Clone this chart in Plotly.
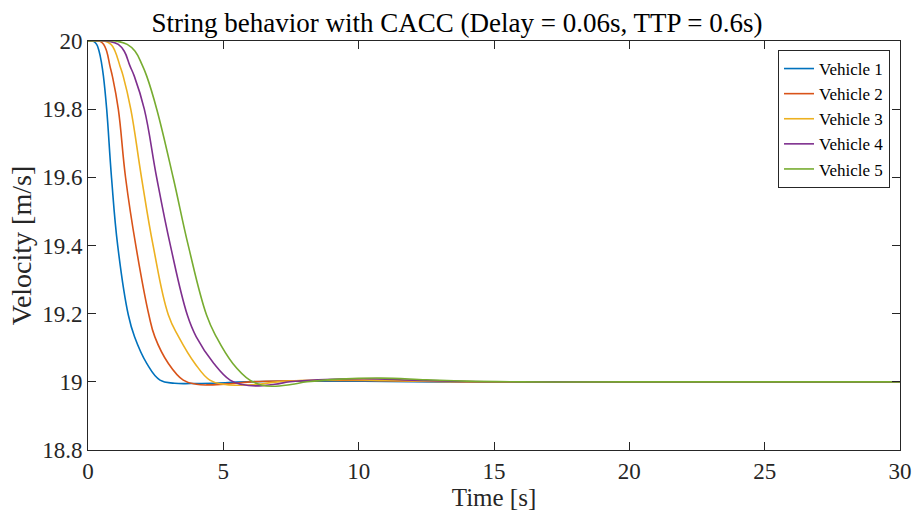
import plotly.graph_objects as go

names = ["Vehicle 1", "Vehicle 2", "Vehicle 3", "Vehicle 4", "Vehicle 5"]
colors = ["#0072BD", "#D95319", "#EDB120", "#7E2F8E", "#77AC30"]

t1 = [0, 0.2, 0.32, 0.41, 0.5, 0.57, 0.69, 0.87, 1.10, 1.49, 1.72, 2.17, 2.66, 3.2, 3.8, 4.6, 5.5, 6.5, 8, 9.5, 11, 13, 15, 20, 25, 30]
v1 = [20, 19.999, 19.99, 19.97, 19.935, 19.897, 19.80, 19.598, 19.398, 19.196, 19.132, 19.054, 19.005, 18.996, 18.995, 18.996, 18.999, 19.001, 19.002, 19.002, 19.001, 19.0, 19.0, 19.0, 19.0, 19.0]

t2 = [0, 0.44, 0.58, 0.69, 0.81, 0.90, 1.12, 1.39, 1.77, 2.25, 2.47, 2.97, 3.52, 4.0, 4.5, 5.2, 6.0, 7.5, 9, 11, 13, 15, 20, 25, 30]
v2 = [20, 19.999, 19.99, 19.97, 19.927, 19.897, 19.80, 19.598, 19.398, 19.196, 19.132, 19.054, 19.005, 18.993, 18.991, 18.994, 19.0, 19.003, 19.004, 19.003, 19.001, 19.0, 19.0, 19.0, 19.0]

t3 = [0, 0.63, 0.85, 1.0, 1.18, 1.30, 1.58, 1.98, 2.41, 2.97, 3.35, 3.95, 4.5, 5.0, 5.5, 6.3, 7.0, 8.5, 9.5, 11, 13, 15, 20, 25, 30]
v3 = [20, 19.999, 19.99, 19.97, 19.927, 19.897, 19.80, 19.598, 19.398, 19.196, 19.132, 19.054, 19.005, 18.993, 18.99, 18.993, 19.0, 19.005, 19.006, 19.004, 19.001, 19.0, 19.0, 19.0, 19.0]

t4 = [0, 0.8, 1.12, 1.34, 1.55, 1.71, 2.08, 2.54, 3.05, 3.67, 4.0, 4.65, 5.25, 5.7, 6.2, 6.9, 7.46, 8.5, 10.2, 12, 14, 16, 20, 25, 30]
v4 = [20, 19.999, 19.99, 19.97, 19.927, 19.897, 19.80, 19.598, 19.398, 19.196, 19.132, 19.054, 19.005, 18.992, 18.988, 18.993, 19.0, 19.006, 19.009, 19.005, 19.001, 19.0, 19.0, 19.0, 19.0]

t5 = [0, 1.1, 1.45, 1.74, 2.0, 2.17, 2.54, 3.15, 3.71, 4.38, 4.74, 5.35, 5.98, 6.4, 6.8, 7.5, 8.1, 9.3, 10.8, 12.5, 14, 16, 20, 25, 30]
v5 = [20, 19.999, 19.99, 19.97, 19.93, 19.897, 19.80, 19.598, 19.398, 19.196, 19.132, 19.054, 19.005, 18.991, 18.987, 18.992, 19.0, 19.008, 19.011, 19.006, 19.002, 19.0, 19.0, 19.0, 19.0]

series_t = [t1, t2, t3, t4, t5]
series_v = [v1, v2, v3, v4, v5]

x_ticks = [0, 5, 10, 15, 20, 25, 30]
y_ticks = [18.8, 19, 19.2, 19.4, 19.6, 19.8, 20]
y_tick_text = ["18.8", "19", "19.2", "19.4", "19.6", "19.8", "20"]

FONT = "Liberation Serif"

fig = go.Figure()
for name, col, tt, vv in zip(names, colors, series_t, series_v):
    fig.add_trace(go.Scatter(x=tt, y=vv, mode="lines", name=name,
                             line=dict(color=col, width=1.6, shape="spline", smoothing=1.2)))

axis_common = dict(showgrid=False, zeroline=False, showline=True, linecolor="#262626",
                   linewidth=1, mirror="ticks", ticks="inside", ticklen=8, tickwidth=1,
                   tickcolor="#262626", automargin=False,
                   tickfont=dict(family=FONT, size=23, color="#262626"))

fig.update_layout(
    width=914, height=518,
    margin=dict(l=88, r=14, t=41, b=68),
    paper_bgcolor="white", plot_bgcolor="white",
    title=dict(text="String behavior with CACC (Delay = 0.06s, TTP = 0.6s)",
               x=0.5, xref="container", xanchor="center", y=1, yref="container", yanchor="top",
               pad=dict(t=13),
               font=dict(family=FONT, size=27, color="black")),
    legend=dict(x=0.9877, y=0.978, xanchor="right", yanchor="top", bgcolor="white",
                bordercolor="#262626", borderwidth=1, tracegroupgap=0, itemwidth=30,
                font=dict(family=FONT, size=17, color="black")),
    xaxis=dict(range=[0, 30], tickvals=x_ticks,
               title=dict(text="Time [s]", standoff=4, font=dict(family=FONT, size=25, color="#262626")),
               **axis_common),
    yaxis=dict(range=[18.8, 20], tickvals=y_ticks, ticktext=y_tick_text,
               title=dict(text="Velocity [m/s]", standoff=2, font=dict(family=FONT, size=28, color="#262626")),
               **axis_common),
)

# remove the default page margin so the 914x518 figure fills the window exactly
fig.write_html("out.html", config={"displayModeBar": False},
               post_script="document.body.style.margin='0';document.body.style.overflow='hidden';")
